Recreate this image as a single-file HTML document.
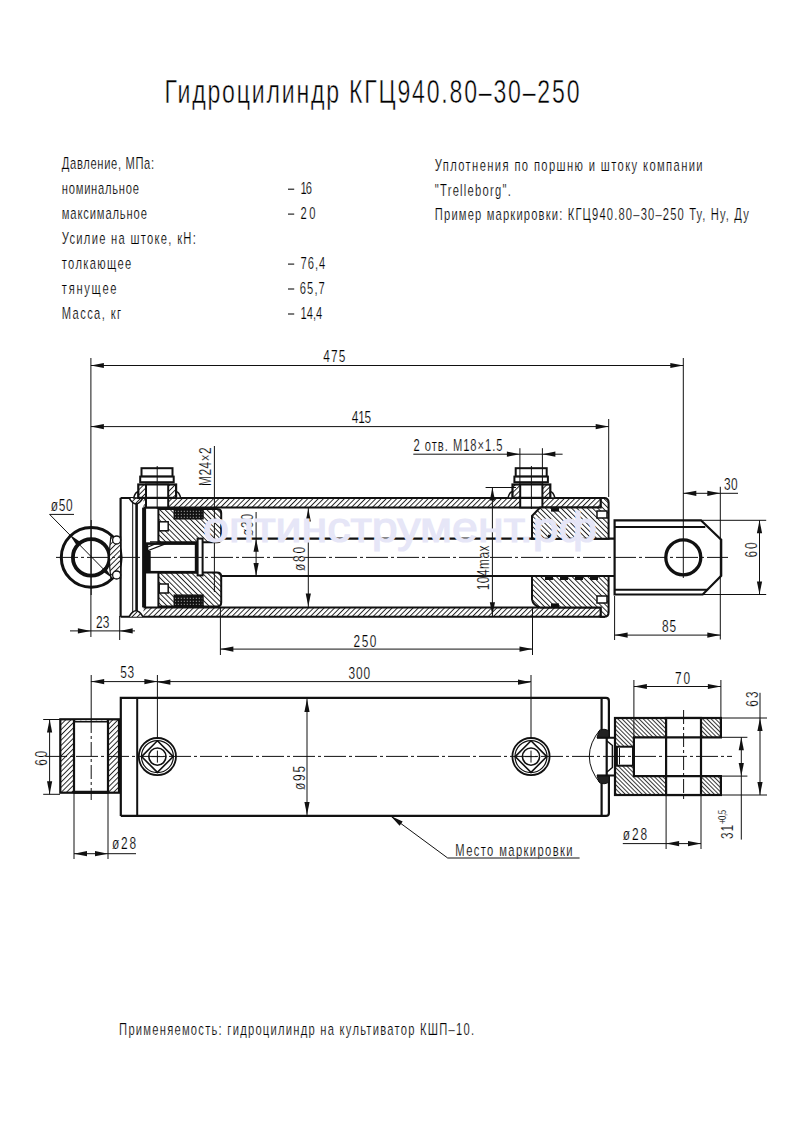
<!DOCTYPE html>
<html><head><meta charset="utf-8">
<style>
html,body{margin:0;padding:0;background:#fff;width:793px;height:1123px;overflow:hidden}
svg{display:block}
text{font-family:"Liberation Sans",sans-serif;fill:#000;stroke:#fff;stroke-width:0.2}
</style></head>
<body>
<svg width="793" height="1123" viewBox="0 0 793 1123">
<defs>
<pattern id="h1" patternUnits="userSpaceOnUse" width="3.7" height="3.7" patternTransform="rotate(45)">
<rect width="3.7" height="3.7" fill="#fff"/><rect x="0" y="0" width="0.95" height="3.7" fill="#222"/></pattern>
<pattern id="h2" patternUnits="userSpaceOnUse" width="3.7" height="3.7" patternTransform="rotate(-45)">
<rect width="3.7" height="3.7" fill="#fff"/><rect x="0" y="0" width="0.95" height="3.7" fill="#222"/></pattern>
<pattern id="h3" patternUnits="userSpaceOnUse" width="3.0" height="3.0" patternTransform="rotate(-45)">
<rect width="3" height="3" fill="#fff"/><rect x="0" y="0" width="0.9" height="3" fill="#222"/></pattern>
<pattern id="seal" patternUnits="userSpaceOnUse" width="3" height="3">
<rect width="3" height="3" fill="#111"/><rect x="0.8" y="0.8" width="1" height="1" fill="#bbb"/></pattern>
</defs>

<g>
<text x="0" y="0" font-size="33" textLength="592.86" lengthAdjust="spacing" transform="translate(164.5,103.3) scale(0.7,1)" style="stroke-width:0.5">Гидроцилиндр КГЦ940.80–30–250</text>
<text x="0" y="0" font-size="16" textLength="131.86" lengthAdjust="spacing" transform="translate(61.8,168.8) scale(0.7,1)">Давление, МПа:</text>
<text x="0" y="0" font-size="16" textLength="110.29" lengthAdjust="spacing" transform="translate(61.8,193.77) scale(0.7,1)">номинальное</text>
<line x1="288" y1="189.2" x2="294.2" y2="189.2" stroke="#111" stroke-width="1.1"/>
<text x="0" y="0" font-size="16" textLength="16.29" lengthAdjust="spacing" transform="translate(300.5,193.77) scale(0.7,1)">16</text>
<text x="0" y="0" font-size="16" textLength="121.57" lengthAdjust="spacing" transform="translate(61.8,218.74) scale(0.7,1)">максимальное</text>
<line x1="288" y1="214.1" x2="294.2" y2="214.1" stroke="#111" stroke-width="1.1"/>
<text x="0" y="0" font-size="16" textLength="21.43" lengthAdjust="spacing" transform="translate(300.5,218.74) scale(0.7,1)">20</text>
<text x="0" y="0" font-size="16" textLength="191.43" lengthAdjust="spacing" transform="translate(61.8,243.71) scale(0.7,1)">Усилие на штоке, кН:</text>
<text x="0" y="0" font-size="16" textLength="99.29" lengthAdjust="spacing" transform="translate(61.8,268.68) scale(0.7,1)">толкающее</text>
<line x1="288" y1="264.1" x2="294.2" y2="264.1" stroke="#111" stroke-width="1.1"/>
<text x="0" y="0" font-size="16" textLength="35.43" lengthAdjust="spacing" transform="translate(300.5,268.68) scale(0.7,1)">76,4</text>
<text x="0" y="0" font-size="16" textLength="78.29" lengthAdjust="spacing" transform="translate(61.8,293.65) scale(0.7,1)">тянущее</text>
<line x1="288" y1="289.0" x2="294.2" y2="289.0" stroke="#111" stroke-width="1.1"/>
<text x="0" y="0" font-size="16" textLength="35.71" lengthAdjust="spacing" transform="translate(299.8,293.65) scale(0.7,1)">65,7</text>
<text x="0" y="0" font-size="16" textLength="84.57" lengthAdjust="spacing" transform="translate(61.8,318.62) scale(0.7,1)">Масса, кг</text>
<line x1="288" y1="314.0" x2="294.2" y2="314.0" stroke="#111" stroke-width="1.1"/>
<text x="0" y="0" font-size="16" textLength="31.14" lengthAdjust="spacing" transform="translate(300.5,318.62) scale(0.7,1)">14,4</text>
<text x="0" y="0" font-size="16" textLength="382.57" lengthAdjust="spacing" transform="translate(434.8,171.2) scale(0.7,1)">Уплотнения по поршню и штоку компании</text>
<text x="0" y="0" font-size="16" textLength="108.57" lengthAdjust="spacing" transform="translate(434.8,195.6) scale(0.7,1)">"Trelleborg".</text>
<text x="0" y="0" font-size="16" textLength="448.57" lengthAdjust="spacing" transform="translate(434.8,220.4) scale(0.7,1)">Пример маркировки: КГЦ940.80–30–250 Ту, Ну, Ду</text>
<text x="0" y="0" font-size="16" textLength="507.14" lengthAdjust="spacing" transform="translate(119.1,1035) scale(0.7,1)">Применяемость: гидроцилиндр на культиватор КШП–10.</text>
</g>
<g fill="none" stroke="#111">
<rect x="143.5" y="497.9" width="457.2" height="9.700000000000045" fill="url(#h1)" stroke="none"/>
<rect x="143.5" y="607.4" width="457.2" height="9.399999999999977" fill="url(#h1)" stroke="none"/>
<line x1="120.6" y1="497.9" x2="605" y2="497.9" stroke-width="2"/>
<line x1="120.6" y1="616.8" x2="605" y2="616.8" stroke-width="2"/>
<line x1="143.5" y1="507.6" x2="601" y2="507.6" stroke-width="2"/>
<line x1="143.5" y1="607.4" x2="601" y2="607.4" stroke-width="2"/>
<line x1="120.6" y1="497.9" x2="120.6" y2="616.8" stroke-width="2.2"/>
<line x1="132.7" y1="498.9" x2="132.7" y2="615.8" stroke-width="1"/>
<line x1="136.6" y1="498.9" x2="136.6" y2="615.8" stroke-width="2.6"/>
<line x1="144.1" y1="507.6" x2="144.1" y2="607.4" stroke-width="4"/>
<path d="M129,497.9 Q136,509.9 143,497.9" fill="url(#h1)" stroke-width="1.5"/>
<path d="M129,616.8 Q136,604.8 143,616.8" fill="url(#h1)" stroke-width="1.5"/>
<rect x="141.5" y="468.2" width="31" height="8.4" fill="#fff" stroke-width="2"/>
<rect x="140.2" y="476.6" width="33.5" height="5.6" fill="#fff" stroke-width="2"/>
<path d="M133.7,497.9 Q135.2,491.9 138.29999999999998,491.4 V497.9 Z" fill="#fff" stroke-width="1.5"/>
<path d="M180.7,497.9 Q179.2,491.9 176.1,491.4 V497.9 Z" fill="#fff" stroke-width="1.5"/>
<rect x="138.29999999999998" y="484.5" width="37.8" height="13.4" fill="url(#h1)" stroke-width="2.2"/>
<rect x="146.0" y="484.5" width="22.2" height="23" fill="#fff" stroke-width="2"/>
<line x1="146.0" y1="497.9" x2="168.2" y2="497.9" stroke-width="2.2"/>
<line x1="157.2" y1="466" x2="157.2" y2="509" stroke-width="1"/>
<rect x="515.6999999999999" y="468.2" width="31" height="8.4" fill="#fff" stroke-width="2"/>
<rect x="514.4" y="476.6" width="33.5" height="5.6" fill="#fff" stroke-width="2"/>
<path d="M507.9,497.9 Q509.4,491.9 512.5,491.4 V497.9 Z" fill="#fff" stroke-width="1.5"/>
<path d="M554.9,497.9 Q553.4,491.9 550.3,491.4 V497.9 Z" fill="#fff" stroke-width="1.5"/>
<rect x="512.5" y="484.5" width="37.8" height="13.4" fill="url(#h1)" stroke-width="2.2"/>
<rect x="520.1999999999999" y="484.5" width="22.2" height="23" fill="#fff" stroke-width="2"/>
<line x1="520.1999999999999" y1="497.9" x2="542.4" y2="497.9" stroke-width="2.2"/>
<line x1="531.4" y1="466" x2="531.4" y2="509" stroke-width="1"/>
<line x1="202" y1="538.7" x2="614.6" y2="538.7" stroke-width="2.2"/>
<line x1="202" y1="576.0" x2="614.6" y2="576.0" stroke-width="2.2"/>
<path d="M158.4,508.9 H217 Q221.2,508.9 221.2,512.9 V538.2 Q221.2,542.2 217,542.2 H158.4 Z" fill="url(#h2)" stroke-width="2"/>
<rect x="174.3" y="508.9" width="28.7" height="9.899999999999977" fill="url(#seal)" stroke="#111" stroke-width="1.5"/>
<path d="M158.4,572.5 H217 Q221.2,572.5 221.2,576.5 V602.5 Q221.2,606.5 217,606.5 H158.4 Z" fill="url(#h2)" stroke-width="2"/>
<rect x="174.3" y="595.2" width="28.7" height="11.299999999999955" fill="url(#seal)" stroke="#111" stroke-width="1.5"/>
<rect x="159.2" y="521.8" width="9" height="9" fill="#fff" stroke-width="1.5"/>
<rect x="159.2" y="584" width="9" height="9" fill="#fff" stroke-width="1.5"/>
<rect x="147" y="543.6" width="49.1" height="28.6" fill="#fff" stroke-width="2.6"/>
<rect x="145.7" y="550.9" width="5" height="21.8" fill="#111" stroke="none"/>
<rect x="197.6" y="538.6" width="5" height="36.8" fill="#fff" stroke-width="2"/>
<path d="M147,551 L166,543.6 M148,547 L160,541.8 H150" stroke-width="1.3"/>
<path d="M540,507.6 H600.7 V497.9 H604 Q608.6,497.9 608.6,502.4 V538.7 H532 V516 Z" fill="url(#h2)" stroke-width="2"/>
<path d="M532,576.0 H608.6 V612.3 Q608.6,616.8 604,616.8 H600.7 V607.4 H540 Q533,605.4 532,599.4 Z" fill="url(#h2)" stroke-width="2"/>
<line x1="600.7" y1="497.9" x2="600.7" y2="507.6" stroke-width="1.5"/>
<line x1="600.7" y1="607.4" x2="600.7" y2="616.8" stroke-width="1.5"/>
<rect x="545" y="576.0" width="8" height="4" fill="#111" stroke="none"/>
<rect x="560" y="576.0" width="8" height="4" fill="#111" stroke="none"/>
<rect x="575" y="576.0" width="8" height="4" fill="#111" stroke="none"/>
<rect x="590" y="576.0" width="8" height="4" fill="#111" stroke="none"/>
<rect x="548" y="534.7" width="8" height="4" fill="#111" stroke="none"/>
<rect x="551" y="507.6" width="8" height="4" fill="#111" stroke="none"/>
<rect x="551" y="603.4" width="8" height="4" fill="#111" stroke="none"/>
<rect x="597" y="511" width="10" height="7" fill="#fff" stroke-width="1.5"/>
<rect x="597" y="596" width="10" height="7" fill="#fff" stroke-width="1.5"/>
<path d="M614.6,520.3 H700.9 L721.2,539.7 V575.9 L702.7,594.5 H614.6 Z" fill="#fff" stroke-width="2.2"/>
<line x1="614.6" y1="526.9" x2="705.3" y2="526.9" stroke-width="2"/>
<line x1="614.6" y1="589.7" x2="707.5" y2="589.7" stroke-width="2"/>
<circle cx="683.3" cy="557.4" r="17.5" stroke-width="3.3"/>
<circle cx="91.2" cy="557.4" r="29.9" fill="none" stroke-width="3"/>
<circle cx="91.2" cy="557.4" r="18.3" stroke-width="3.8"/>
<path d="M110.8,537 Q108,557.4 110.8,578 H120.6 V537 Z" fill="url(#h1)" stroke-width="1.2"/>
<circle cx="116.6" cy="540" r="4" fill="#fff" stroke-width="1.3"/>
<circle cx="116.6" cy="575" r="4" fill="#fff" stroke-width="1.3"/>
<line x1="91.2" y1="520" x2="91.2" y2="595" stroke-width="1"/>
<line x1="56" y1="557.4" x2="728" y2="557.4" stroke-width="1" stroke-dasharray="22 3 3 3"/>
</g>
<g fill="none" stroke="#111">
<line x1="90.9" y1="358" x2="90.9" y2="637" stroke-width="1"/>
<line x1="683.3" y1="358" x2="683.3" y2="578" stroke-width="1"/>
<line x1="608.7" y1="419" x2="608.7" y2="497" stroke-width="1"/>
<line x1="90.9" y1="365.5" x2="683.3" y2="365.5" stroke-width="1"/>
<path d="M90.90,365.50 L103.90,362.90 L103.90,368.10 Z" fill="#111" stroke="none"/>
<path d="M683.30,365.50 L670.30,368.10 L670.30,362.90 Z" fill="#111" stroke="none"/>
<line x1="90.9" y1="426.6" x2="608.7" y2="426.6" stroke-width="1"/>
<path d="M90.90,426.60 L103.90,424.00 L103.90,429.20 Z" fill="#111" stroke="none"/>
<path d="M608.70,426.60 L595.70,429.20 L595.70,424.00 Z" fill="#111" stroke="none"/>
<line x1="413.3" y1="454.2" x2="562.6" y2="454.2" stroke-width="1"/>
<line x1="519.9" y1="448.2" x2="519.9" y2="484" stroke-width="1"/>
<line x1="542.4" y1="448.2" x2="542.4" y2="484" stroke-width="1"/>
<path d="M519.90,454.20 L506.90,456.80 L506.90,451.60 Z" fill="#111" stroke="none"/>
<path d="M542.40,454.20 L555.40,451.60 L555.40,456.80 Z" fill="#111" stroke="none"/>
<line x1="214.4" y1="446" x2="214.4" y2="592" stroke-width="1"/>
<line x1="256.1" y1="512" x2="256.1" y2="576.0" stroke-width="1"/>
<path d="M256.10,538.70 L258.70,551.70 L253.50,551.70 Z" fill="#111" stroke="none"/>
<path d="M256.10,576.00 L253.50,563.00 L258.70,563.00 Z" fill="#111" stroke="none"/>
<line x1="308.3" y1="507.6" x2="308.3" y2="607.4" stroke-width="1"/>
<path d="M308.30,508.60 L310.90,521.60 L305.70,521.60 Z" fill="#111" stroke="none"/>
<path d="M308.30,606.40 L305.70,593.40 L310.90,593.40 Z" fill="#111" stroke="none"/>
<line x1="485.6" y1="487.5" x2="516" y2="487.5" stroke-width="1"/>
<line x1="492.4" y1="487.5" x2="492.4" y2="616.8" stroke-width="1"/>
<path d="M492.40,487.50 L495.00,500.50 L489.80,500.50 Z" fill="#111" stroke="none"/>
<path d="M492.40,615.30 L489.80,602.30 L495.00,602.30 Z" fill="#111" stroke="none"/>
<line x1="119.7" y1="616" x2="119.7" y2="640" stroke-width="1"/>
<line x1="70" y1="630.9" x2="135" y2="630.9" stroke-width="1"/>
<path d="M90.90,630.90 L77.90,633.50 L77.90,628.30 Z" fill="#111" stroke="none"/>
<path d="M119.70,630.90 L132.70,628.30 L132.70,633.50 Z" fill="#111" stroke="none"/>
<line x1="220.4" y1="607" x2="220.4" y2="655" stroke-width="1"/>
<line x1="532.5" y1="607" x2="532.5" y2="655" stroke-width="1"/>
<line x1="220.4" y1="649.1" x2="532.5" y2="649.1" stroke-width="1"/>
<path d="M220.40,649.10 L233.40,646.50 L233.40,651.70 Z" fill="#111" stroke="none"/>
<path d="M532.50,649.10 L519.50,651.70 L519.50,646.50 Z" fill="#111" stroke="none"/>
<line x1="49.6" y1="514.4" x2="74" y2="514.4" stroke-width="1"/>
<line x1="49.6" y1="514.4" x2="112.2" y2="578" stroke-width="1"/>
<path d="M69.80,534.80 L80.76,542.26 L77.04,545.90 Z" fill="#111" stroke="none"/>
<path d="M112.20,578.00 L101.24,570.54 L104.96,566.90 Z" fill="#111" stroke="none"/>
<line x1="720.3" y1="486.8" x2="720.3" y2="639.5" stroke-width="1"/>
<line x1="683.3" y1="493.3" x2="738" y2="493.3" stroke-width="1"/>
<path d="M683.30,493.30 L696.30,490.70 L696.30,495.90 Z" fill="#111" stroke="none"/>
<path d="M720.30,493.30 L707.30,495.90 L707.30,490.70 Z" fill="#111" stroke="none"/>
<line x1="700.9" y1="520.3" x2="766.2" y2="520.3" stroke-width="1"/>
<line x1="702.7" y1="594.5" x2="766.2" y2="594.5" stroke-width="1"/>
<line x1="759.5" y1="520.3" x2="759.5" y2="594.5" stroke-width="1"/>
<path d="M759.50,520.30 L762.10,533.30 L756.90,533.30 Z" fill="#111" stroke="none"/>
<path d="M759.50,594.50 L756.90,581.50 L762.10,581.50 Z" fill="#111" stroke="none"/>
<line x1="614.6" y1="596" x2="614.6" y2="640" stroke-width="1"/>
<line x1="614.6" y1="635.1" x2="720.3" y2="635.1" stroke-width="1"/>
<path d="M614.60,635.10 L627.60,632.50 L627.60,637.70 Z" fill="#111" stroke="none"/>
<path d="M720.30,635.10 L707.30,637.70 L707.30,632.50 Z" fill="#111" stroke="none"/>
</g>
<text x="0" y="0" font-size="17" textLength="31.57" lengthAdjust="spacing" transform="translate(323.3,361.7) scale(0.7,1)">475</text>
<text x="0" y="0" font-size="17" textLength="27.86" lengthAdjust="spacing" transform="translate(351.7,423.2) scale(0.7,1)">415</text>
<text x="0" y="0" font-size="16" textLength="127.00" lengthAdjust="spacing" transform="translate(413.6,451.4) scale(0.7,1)">2 отв. M18×1.5</text>
<text x="0" y="0" font-size="17" textLength="55.29" lengthAdjust="spacing" transform="translate(211.4,486) rotate(-90) scale(0.7,1)">M24×2</text>
<text x="0" y="0" font-size="17" textLength="31.43" lengthAdjust="spacing" transform="translate(252.8,536) rotate(-90) scale(0.7,1)">ø30</text>
<text x="0" y="0" font-size="17" textLength="34.29" lengthAdjust="spacing" transform="translate(305.1,571) rotate(-90) scale(0.7,1)">ø80</text>
<text x="0" y="0" font-size="17" textLength="64.00" lengthAdjust="spacing" transform="translate(489.3,590.3) rotate(-90) scale(0.7,1)">104max</text>
<text x="0" y="0" font-size="17" textLength="19.00" lengthAdjust="spacing" transform="translate(96.1,627.5) scale(0.7,1)">23</text>
<text x="0" y="0" font-size="17" textLength="32.71" lengthAdjust="spacing" transform="translate(353.6,646.6) scale(0.7,1)">250</text>
<text x="0" y="0" font-size="17" textLength="31.43" lengthAdjust="spacing" transform="translate(50.7,511.4) scale(0.7,1)">ø50</text>
<text x="0" y="0" font-size="17" textLength="19.43" lengthAdjust="spacing" transform="translate(723.9,490.3) scale(0.7,1)">30</text>
<text x="0" y="0" font-size="17" textLength="21.43" lengthAdjust="spacing" transform="translate(756.5,557.4) rotate(-90) scale(0.7,1)">60</text>
<text x="0" y="0" font-size="17" textLength="20.14" lengthAdjust="spacing" transform="translate(662.1,631.5) scale(0.7,1)">85</text>
<g fill="none" stroke="#111">
<path d="M120.8,815.9 V697.9 H606 Q608.9,697.9 608.9,700.9 V737.7" stroke-width="2.2"/>
<path d="M608.9,775.4 V812.9 Q608.9,815.9 606,815.9 H120.8" stroke-width="2.2"/>
<line x1="137.2" y1="697.9" x2="137.2" y2="815.9" stroke-width="2"/>
<line x1="601.6" y1="697.9" x2="601.6" y2="730" stroke-width="2.2"/>
<line x1="601.6" y1="783" x2="601.6" y2="815.9" stroke-width="2.2"/>
<rect x="60.3" y="719.3" width="58.7" height="73.4" fill="url(#h1)" stroke-width="2.2"/>
<rect x="74" y="720.4" width="34" height="72" fill="#fff" stroke="none"/>
<line x1="74" y1="719.5" x2="74" y2="793.5" stroke-width="2.2"/>
<line x1="108" y1="719.5" x2="108" y2="793.5" stroke-width="2.2"/>
<line x1="74" y1="792.2" x2="108" y2="792.2" stroke-width="3"/>
<line x1="74" y1="721.8" x2="108" y2="721.8" stroke-width="1.6"/>
<line x1="91.2" y1="675" x2="91.2" y2="719" stroke-width="1"/>
<line x1="91.2" y1="719" x2="91.2" y2="800" stroke-width="1" stroke-dasharray="14 3 3 3"/>
<circle cx="157.4" cy="756.6" r="18.6" fill="#fff" stroke-width="1.8"/>
<circle cx="157.4" cy="756.6" r="16" stroke-width="1.2"/>
<path d="M157.4,740.8000000000001 L173.20000000000002,756.6 L157.4,772.4 L141.6,756.6 Z" stroke-width="1.6"/>
<circle cx="157.4" cy="756.6" r="8.6" stroke-width="1.6"/>
<line x1="151.4" y1="756.6" x2="163.4" y2="756.6" stroke-width="1"/>
<line x1="157.4" y1="750.6" x2="157.4" y2="762.6" stroke-width="1"/>
<circle cx="531" cy="756.6" r="18.6" fill="#fff" stroke-width="1.8"/>
<circle cx="531" cy="756.6" r="16" stroke-width="1.2"/>
<path d="M531,740.8000000000001 L546.8,756.6 L531,772.4 L515.2,756.6 Z" stroke-width="1.6"/>
<circle cx="531" cy="756.6" r="8.6" stroke-width="1.6"/>
<line x1="525" y1="756.6" x2="537" y2="756.6" stroke-width="1"/>
<line x1="531" y1="750.6" x2="531" y2="762.6" stroke-width="1"/>
<path d="M600.4,729.3 Q578.2,756.4 600.4,783.5" stroke-width="1"/>
<path d="M597,737.7 L599,731 Q604,727.5 609,731 V737.7 Z" fill="#222" stroke="#111" stroke-width="1"/>
<path d="M597,775.4 L599,782 Q604,785.5 609,782 V775.4 Z" fill="#222" stroke="#111" stroke-width="1"/>
<path d="M597,737.7 H614 M597,775.4 H614" stroke-width="2"/>
<line x1="606.7" y1="737.7" x2="606.7" y2="775.4" stroke-width="2.2"/>
<path d="M607,741 L612.4,745.5 V767.5 L607,772" stroke-width="1.5"/>
<rect x="615" y="718" width="105.9" height="77" fill="url(#h3)" stroke-width="2.2"/>
<path d="M722,737.3 H633.9 V776.1 H722" fill="#fff" stroke-width="2.2"/>
<rect x="666.1" y="718" width="34.9" height="77" fill="#fff" stroke-width="2.2"/>
<line x1="666.1" y1="737.3" x2="701" y2="737.3" stroke-width="2.2"/>
<line x1="666.1" y1="776.1" x2="701" y2="776.1" stroke-width="2.2"/>
<rect x="616.9" y="746.7" width="16.1" height="19" fill="#fff" stroke-width="2"/>
<line x1="619.5" y1="748" x2="619.5" y2="764.5" stroke-width="1"/>
<line x1="683.6" y1="710" x2="683.6" y2="802" stroke-width="1" stroke-dasharray="14 3 3 3"/>
<line x1="45" y1="756.4" x2="732" y2="756.4" stroke-width="1" stroke-dasharray="22 3 3 3"/>
</g>
<g fill="none" stroke="#111">
<line x1="157.4" y1="675" x2="157.4" y2="738" stroke-width="1"/>
<line x1="531" y1="675" x2="531" y2="738" stroke-width="1"/>
<line x1="90.9" y1="681.6" x2="531" y2="681.6" stroke-width="1"/>
<path d="M91.20,681.60 L104.20,679.00 L104.20,684.20 Z" fill="#111" stroke="none"/>
<path d="M157.40,681.60 L144.40,684.20 L144.40,679.00 Z" fill="#111" stroke="none"/>
<path d="M157.40,682.20 L170.40,679.60 L170.40,684.80 Z" fill="#111" stroke="none"/>
<path d="M531.00,682.20 L518.00,684.80 L518.00,679.60 Z" fill="#111" stroke="none"/>
<line x1="307" y1="697.9" x2="307" y2="815.9" stroke-width="1"/>
<path d="M307.00,698.90 L309.60,711.90 L304.40,711.90 Z" fill="#111" stroke="none"/>
<path d="M307.00,814.90 L304.40,801.90 L309.60,801.90 Z" fill="#111" stroke="none"/>
<line x1="43.2" y1="719.5" x2="60" y2="719.5" stroke-width="1"/>
<line x1="43.2" y1="794.3" x2="60" y2="794.3" stroke-width="1"/>
<line x1="49.6" y1="719.5" x2="49.6" y2="794.3" stroke-width="1"/>
<path d="M49.60,719.50 L52.20,732.50 L47.00,732.50 Z" fill="#111" stroke="none"/>
<path d="M49.60,794.30 L47.00,781.30 L52.20,781.30 Z" fill="#111" stroke="none"/>
<line x1="74" y1="793" x2="74" y2="859" stroke-width="1"/>
<line x1="108" y1="793" x2="108" y2="859" stroke-width="1"/>
<line x1="74" y1="853.7" x2="136" y2="853.7" stroke-width="1"/>
<path d="M74.00,853.70 L87.00,851.10 L87.00,856.30 Z" fill="#111" stroke="none"/>
<path d="M108.00,853.70 L95.00,856.30 L95.00,851.10 Z" fill="#111" stroke="none"/>
<line x1="390.7" y1="816" x2="447.7" y2="858" stroke-width="1"/>
<path d="M390.70,816.00 L402.71,821.62 L399.62,825.80 Z" fill="#111" stroke="none"/>
<line x1="447.7" y1="858" x2="579.6" y2="858" stroke-width="1"/>
<line x1="633.9" y1="680" x2="633.9" y2="737" stroke-width="1"/>
<line x1="720.9" y1="680" x2="720.9" y2="718" stroke-width="1"/>
<line x1="633.9" y1="686.5" x2="720.9" y2="686.5" stroke-width="1"/>
<path d="M633.90,686.50 L646.90,683.90 L646.90,689.10 Z" fill="#111" stroke="none"/>
<path d="M720.90,686.50 L707.90,689.10 L707.90,683.90 Z" fill="#111" stroke="none"/>
<line x1="720.9" y1="718" x2="767" y2="718" stroke-width="1"/>
<line x1="720.9" y1="795" x2="767" y2="795" stroke-width="1"/>
<line x1="760" y1="692.8" x2="760" y2="795" stroke-width="1"/>
<path d="M760.00,718.00 L762.60,731.00 L757.40,731.00 Z" fill="#111" stroke="none"/>
<path d="M760.00,795.00 L757.40,782.00 L762.60,782.00 Z" fill="#111" stroke="none"/>
<line x1="720.9" y1="737.3" x2="747.4" y2="737.3" stroke-width="1"/>
<line x1="720.9" y1="776.1" x2="747.4" y2="776.1" stroke-width="1"/>
<line x1="741.3" y1="737.3" x2="741.3" y2="839.6" stroke-width="1"/>
<path d="M741.30,737.30 L743.90,750.30 L738.70,750.30 Z" fill="#111" stroke="none"/>
<path d="M741.30,776.10 L738.70,763.10 L743.90,763.10 Z" fill="#111" stroke="none"/>
<line x1="666.1" y1="795" x2="666.1" y2="849" stroke-width="1"/>
<line x1="701" y1="795" x2="701" y2="849" stroke-width="1"/>
<line x1="622.8" y1="843.6" x2="701" y2="843.6" stroke-width="1"/>
<path d="M666.10,843.60 L679.10,841.00 L679.10,846.20 Z" fill="#111" stroke="none"/>
<path d="M701.00,843.60 L688.00,846.20 L688.00,841.00 Z" fill="#111" stroke="none"/>
</g>
<text x="0" y="0" font-size="17" textLength="19.57" lengthAdjust="spacing" transform="translate(120.3,678.2) scale(0.7,1)">53</text>
<text x="0" y="0" font-size="17" textLength="30.71" lengthAdjust="spacing" transform="translate(348.5,678.9) scale(0.7,1)">300</text>
<text x="0" y="0" font-size="17" textLength="21.14" lengthAdjust="spacing" transform="translate(46.8,765.7) rotate(-90) scale(0.7,1)">60</text>
<text x="0" y="0" font-size="17" textLength="34.29" lengthAdjust="spacing" transform="translate(305,790) rotate(-90) scale(0.7,1)">ø95</text>
<text x="0" y="0" font-size="17" textLength="34.29" lengthAdjust="spacing" transform="translate(112,849.2) scale(0.7,1)">ø28</text>
<text x="0" y="0" font-size="16" textLength="167.57" lengthAdjust="spacing" transform="translate(455.3,855.5) scale(0.7,1)">Место маркировки</text>
<text x="0" y="0" font-size="17" textLength="21.43" lengthAdjust="spacing" transform="translate(675,684) scale(0.7,1)">70</text>
<text x="0" y="0" font-size="17" textLength="21.71" lengthAdjust="spacing" transform="translate(758.2,706.7) rotate(-90) scale(0.7,1)">63</text>
<text x="0" y="0" font-size="17" textLength="20.00" lengthAdjust="spacing" transform="translate(733,839) rotate(-90) scale(0.7,1)">31</text>
<text x="0" y="0" font-size="11" textLength="20.00" lengthAdjust="spacing" transform="translate(726,824) rotate(-90) scale(0.7,1)">+0,5</text>
<text x="0" y="0" font-size="17" textLength="34.86" lengthAdjust="spacing" transform="translate(622.8,839.6) scale(0.7,1)">ø28</text>
<text x="203" y="542.2" font-size="43" textLength="394" lengthAdjust="spacingAndGlyphs" style="fill:#e6e6f7;stroke:#e6e6f7;stroke-width:1.2">оптинструмент.рф</text>
</svg>
</body></html>
